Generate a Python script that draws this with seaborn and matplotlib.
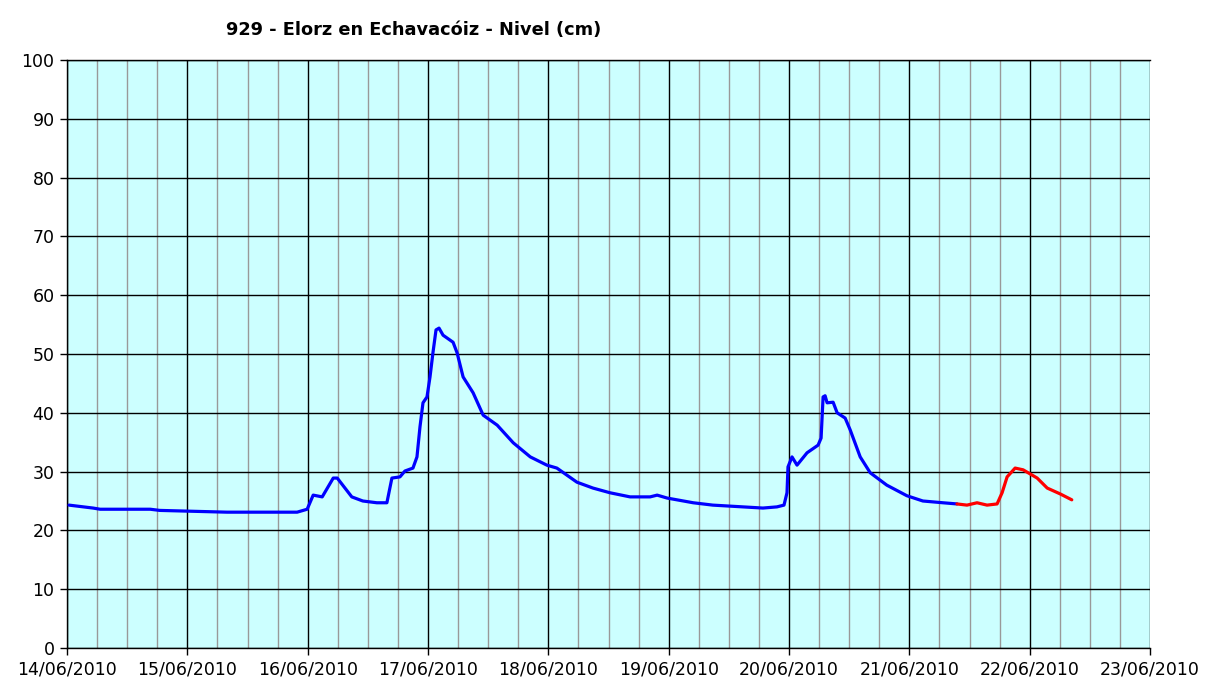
import pandas as pd
import numpy as np
import seaborn as sns
import matplotlib.pyplot as plt
import matplotlib.dates as mdates

START = pd.Timestamp("2010-06-14 00:00")

# hours since 14/06/2010 00:00 and level in cm (validated data, blue)
hours_blue = [0.4, 5.2, 6.6, 16.6, 18.5, 31.9, 42.5, 45.9, 47.9, 49.1, 50.9, 53.1, 53.9,
              56.8, 59.0, 61.8, 63.8, 64.8, 66.4, 67.4, 69.0, 69.8, 70.4, 71.0, 71.8,
              72.4, 73.0, 73.6, 74.2, 75.0, 77.0, 77.8, 79.0, 81.0, 83.0, 85.8, 89.0,
              92.4, 95.7, 97.7, 101.7, 104.9, 108.3, 112.3, 116.3, 117.7, 119.7, 124.9,
              128.8, 134.8, 138.8, 141.6, 143.0, 143.6, 143.8, 144.6, 145.6, 147.6,
              149.8, 150.4, 150.8, 151.2, 151.6, 152.8, 153.6, 155.2, 156.2, 158.2,
              160.2, 163.5, 167.5, 170.7, 174.7, 177.5]
level_blue = [24.3, 23.8, 23.6, 23.6, 23.4, 23.1, 23.1, 23.1, 23.6, 26.0, 25.7, 28.9, 28.9,
              25.7, 25.0, 24.7, 24.7, 28.9, 29.1, 30.1, 30.6, 32.5, 37.6, 41.7, 42.7,
              46.1, 50.3, 54.1, 54.4, 53.2, 52.0, 50.2, 46.1, 43.4, 39.6, 37.9, 34.9,
              32.5, 31.1, 30.6, 28.2, 27.2, 26.4, 25.7, 25.7, 26.0, 25.5, 24.7,
              24.3, 24.0, 23.8, 24.0, 24.3, 26.4, 30.8, 32.5, 31.1, 33.2,
              34.5, 35.7, 42.7, 42.9, 41.7, 41.8, 40.0, 39.1, 37.1, 32.5,
              29.8, 27.7, 25.9, 25.0, 24.7, 24.5]

# provisional data (red)
hours_red = [177.5, 179.5, 181.5, 183.5, 185.5, 186.5, 187.5, 189.1, 190.7, 193.5,
             195.5, 198.1, 200.4]
level_red = [24.5, 24.3, 24.7, 24.3, 24.5, 26.4, 29.1, 30.6, 30.3, 28.9,
             27.2, 26.2, 25.2]

df_blue = pd.DataFrame({"fecha": START + pd.to_timedelta(hours_blue, unit="h"),
                        "nivel": level_blue})
df_red = pd.DataFrame({"fecha": START + pd.to_timedelta(hours_red, unit="h"),
                       "nivel": level_red})

sns.set_style("white")
plt.rcParams["font.family"] = ["DejaVu Sans"]
plt.rcParams["text.color"] = "black"
plt.rcParams["xtick.color"] = "black"
plt.rcParams["ytick.color"] = "black"

fig = plt.figure(figsize=(12.07, 6.80), dpi=100)
ax = fig.add_axes([67 / 1207, 32 / 680, 1083 / 1207, 588 / 680])
ax.set_facecolor("#CCFFFF")

sns.lineplot(data=df_blue, x="fecha", y="nivel", color="#0000FF", linewidth=2.3, ax=ax, zorder=5)
sns.lineplot(data=df_red, x="fecha", y="nivel", color="#FF0000", linewidth=2.3, ax=ax, zorder=5)

ax.set_xlim(START, START + pd.Timedelta(days=9))
ax.set_ylim(0, 100)
ax.set_yticks(range(0, 101, 10))
ax.xaxis.set_major_locator(mdates.DayLocator())
ax.xaxis.set_major_formatter(mdates.DateFormatter("%d/%m/%Y"))
ax.xaxis.set_minor_locator(mdates.HourLocator(byhour=[6, 12, 18]))

ax.grid(which="major", axis="both", color="black", linewidth=1.0)
ax.grid(which="minor", axis="x", color="#999999", linewidth=1.0)
ax.set_axisbelow(True)

ax.set_xlabel("")
ax.set_ylabel("")
ax.tick_params(axis="both", which="major", length=5, width=1, color="black",
               labelsize=12.5, labelcolor="black", direction="out", pad=4)
ax.tick_params(axis="x", which="minor", length=0)
ax.tick_params(left=True, bottom=True)
for s in ["left", "bottom", "top"]:
    ax.spines[s].set_color("black")
    ax.spines[s].set_linewidth(1)
ax.spines["right"].set_visible(False)

fig.text(414 / 1207, 1 - 30 / 680, "929 - Elorz en Echavacóiz - Nivel (cm)",
         ha="center", va="center", fontsize=12.8, fontweight="bold", color="black")

fig.savefig("out.png", dpi=100, facecolor="white")
